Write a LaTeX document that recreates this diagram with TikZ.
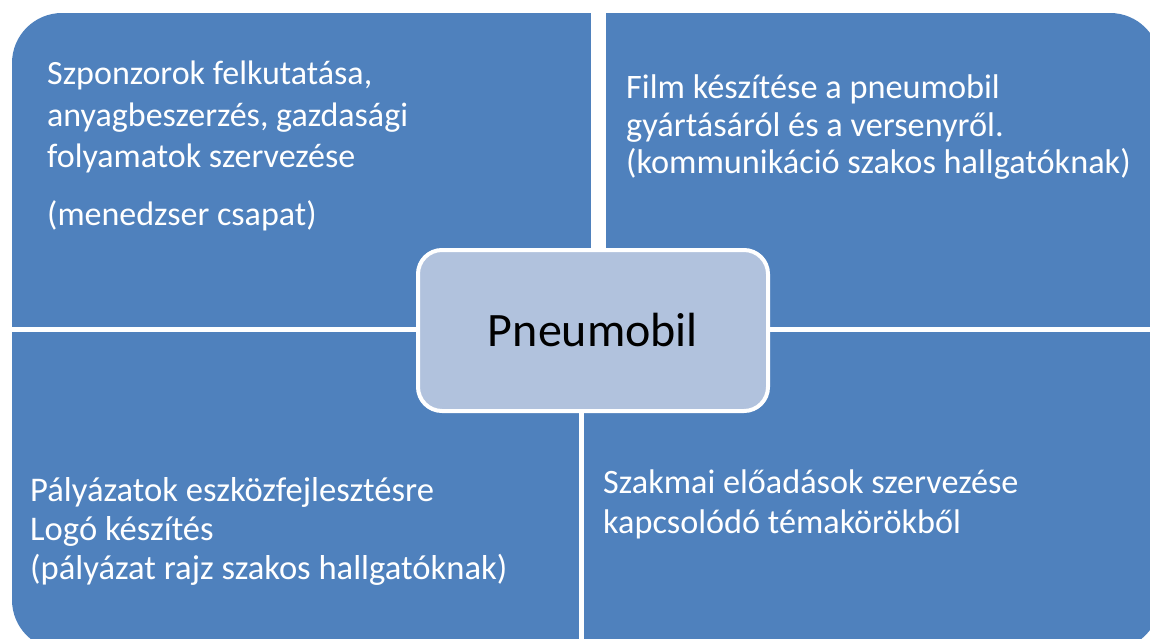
\documentclass[tikz,border=0pt]{standalone}
\usepackage{fontspec}
\setmainfont{Carlito}
\usepackage{tikz}
\usepackage{xcolor}
\definecolor{quadblue}{HTML}{4F81BD}
\definecolor{hubblue}{HTML}{B1C2DD}

\begin{document}
\begin{tikzpicture}[x=1pt, y=-1pt,
  txt/.style={anchor=base west, align=left, text=white, inner sep=0pt, font=\fontsize{34}{41.5}\selectfont},
  hub/.style={rectangle, rounded corners=24pt, fill=hubblue, draw=white, line width=4pt,
              minimum width=350pt, minimum height=161pt, font=\fontsize{48}{50}\selectfont}]
  \useasboundingbox (0, 0) rectangle (1150, 639);

  % four blue quarters, outer corners rounded
  \begin{scope}
    \clip[rounded corners=50pt] (12, 13) rectangle (1160, 650);
    \fill[quadblue] (12, 13)   rectangle (591, 327);
    \fill[quadblue] (606, 13)  rectangle (1160, 327);
    \fill[quadblue] (12, 332)  rectangle (579, 650);
    \fill[quadblue] (584, 332) rectangle (1160, 650);
  \end{scope}

  \node[hub]                    (hub) at (593, 330.5) {Pneumobil};

  % anchors sit on the last baseline of each text
  \node[txt]                    (tl)  at (47, 225)  {Szponzorok felkutatása,\\ anyagbeszerzés, gazdasági\\ folyamatok szervezése\\[16pt] (menedzser csapat)};
  \node[txt, font=\fontsize{34.3}{37.5}\selectfont]
                                (tr)  at (626, 174) {Film készítése a pneumobil\\ gyártásáról és a versenyről.\\ (kommunikáció szakos hallgatóknak)};
  \node[txt, font=\fontsize{34.6}{39}\selectfont]
                                (bl)  at (30, 579)  {Pályázatok eszközfejlesztésre\\ Logó készítés\\ (pályázat rajz szakos hallgatóknak)};
  \node[txt, font=\fontsize{34.2}{39.5}\selectfont]
                                (br)  at (603, 533) {Szakmai előadások szervezése\\ kapcsolódó témakörökből};
\end{tikzpicture}
\end{document}
